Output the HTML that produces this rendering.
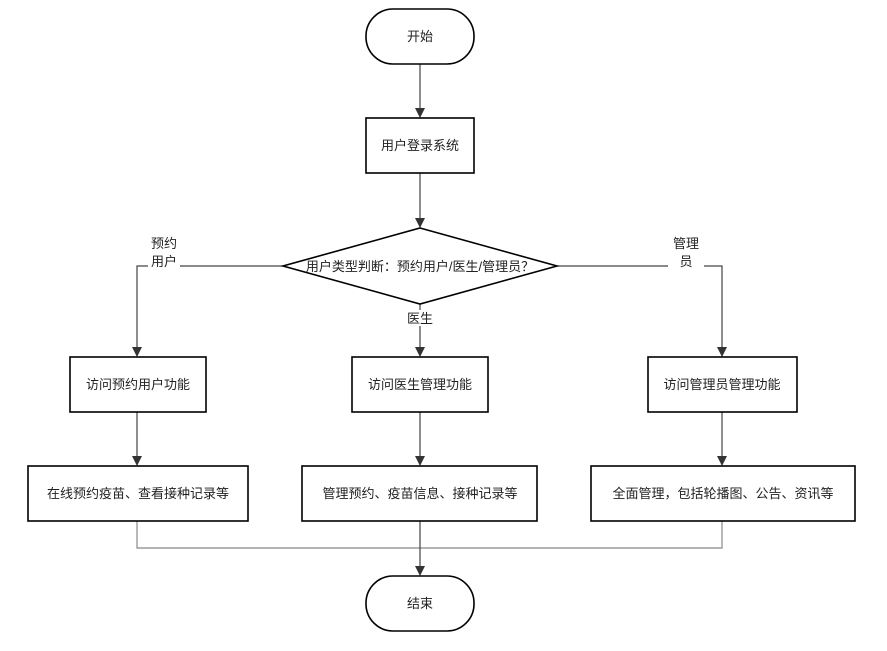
<!DOCTYPE html>
<html><head><meta charset="utf-8"><style>
body{margin:0;background:#fff;}
svg text{font-family:"Liberation Sans","Noto Sans CJK SC",sans-serif;font-size:13px;fill:#222;}
</style></head><body>
<svg width="887" height="646" viewBox="0 0 887 646" xmlns="http://www.w3.org/2000/svg">
<defs><marker id="a" markerWidth="10" markerHeight="10" refX="9" refY="5" orient="auto" markerUnits="userSpaceOnUse"><path d="M0,0 L10,5 L0,10 Z" fill="#333"/></marker></defs>
<g stroke="#444" stroke-width="1.2" fill="none">
<line x1="420" y1="64" x2="420" y2="117" marker-end="url(#a)"/>
<line x1="420" y1="173" x2="420" y2="227" marker-end="url(#a)"/>
<polyline points="283,266 137,266 137,356" marker-end="url(#a)"/>
<polyline points="557,266 722,266 722,356" marker-end="url(#a)"/>
<line x1="420" y1="304" x2="420" y2="356" marker-end="url(#a)"/>
<line x1="137" y1="412" x2="137" y2="465" marker-end="url(#a)"/>
<line x1="420" y1="412" x2="420" y2="465" marker-end="url(#a)"/>
<line x1="722" y1="412" x2="722" y2="465" marker-end="url(#a)"/>
<polyline points="137,521 137,548 722,548 722,521" stroke="#888"/>
<line x1="420" y1="521" x2="420" y2="575" marker-end="url(#a)"/>
</g>
<g stroke="#000" stroke-width="1.6" fill="#fff">
<rect x="366" y="9" width="108" height="55" rx="27"/>
<rect x="366" y="118" width="108" height="55"/>
<polygon points="420,228 557,266 420,304 283,266"/>
<rect x="70" y="357" width="136" height="55"/>
<rect x="352" y="357" width="136" height="55"/>
<rect x="648" y="357" width="149" height="55"/>
<rect x="28" y="466" width="220" height="55"/>
<rect x="302" y="466" width="235" height="55"/>
<rect x="591" y="466" width="264" height="55"/>
<rect x="366" y="576" width="108" height="55" rx="27"/>
</g>
<rect x="148" y="236" width="32" height="36" fill="#fff"/>
<rect x="668" y="236" width="36" height="36" fill="#fff"/>
<rect x="404" y="310" width="32" height="16" fill="#fff"/>
<g text-anchor="middle">
<text x="420" y="41">开始</text>
<text x="420" y="150">用户登录系统</text>
<text x="420" y="271">用户类型判断：预约用户/医生/管理员？</text>
<text x="164" y="248">预约</text><text x="164" y="266">用户</text>
<text x="686" y="248">管理</text><text x="686" y="266">员</text>
<text x="420" y="323">医生</text>
<text x="138" y="389">访问预约用户功能</text>
<text x="420" y="389">访问医生管理功能</text>
<text x="722" y="389">访问管理员管理功能</text>
<text x="138" y="498">在线预约疫苗、查看接种记录等</text>
<text x="420" y="498">管理预约、疫苗信息、接种记录等</text>
<text x="723" y="498">全面管理，包括轮播图、公告、资讯等</text>
<text x="420" y="608">结束</text>
</g>
</svg>
</body></html>
